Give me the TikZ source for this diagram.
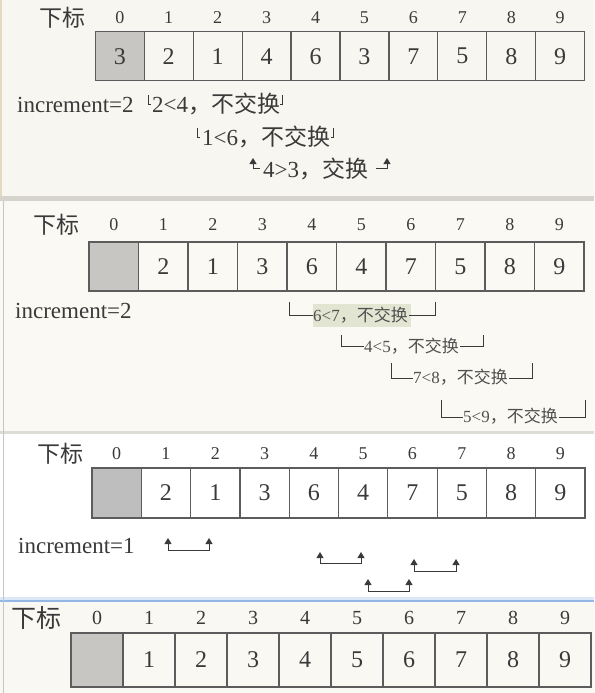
\documentclass[tikz,border=0pt]{standalone}
\usepackage{fontspec}
\setmainfont{Liberation Serif}
\newfontfamily\cjk{Noto Sans CJK SC}
\usetikzlibrary{arrows.meta}
\definecolor{bgone}{HTML}{F8F6F0}
\definecolor{bgtwo}{HTML}{FAF9F4}
\definecolor{bgfour}{HTML}{F9F8F3}
\definecolor{sepgray}{HTML}{D6D3CC}
\definecolor{zeroA}{HTML}{C7C6C2}
\definecolor{zeroC}{HTML}{BEBEBE}
\definecolor{cellline}{HTML}{5C5C5C}
\definecolor{ink}{HTML}{3A3A3A}
\definecolor{softink}{HTML}{505050}
\definecolor{hl}{HTML}{E2E5D2}
\definecolor{blueline}{HTML}{93B8E8}
\definecolor{bluefade}{HTML}{DCE8F8}
\definecolor{tanedge}{HTML}{E3D8C4}
\newcommand\fsz[1]{\fontsize{#1}{#1}\selectfont}
\begin{document}
\begin{tikzpicture}[x=1pt,y=-1pt,
  cellbox/.style={draw=cellline, line width=1.2pt, inner sep=0pt, text=ink, font=\fsz{24}},
  hdr/.style={inner sep=0pt, text=ink, font=\fsz{18}},
  biaolabel/.style={inner sep=0pt, text=ink, font=\cjk\fsz{23}},
  inclabel/.style={inner sep=0pt, anchor=base west, text=ink, font=\fsz{23}},
  cmp/.style={inner sep=0pt, anchor=base west, text=ink, font=\fsz{23}},
  smallcmp/.style={inner sep=0pt, anchor=base west, text=softink, font=\fsz{17}},
  tickmark/.style={draw=ink, line width=0.8pt},
  brk/.style={draw=ink, line width=0.9pt},
  uparrow/.style={draw=ink, line width=1pt, -{Triangle[width=7pt,length=6pt]}},
  twoup/.style={draw=ink, line width=1pt, {Triangle[width=7pt,length=6pt]}-{Triangle[width=7pt,length=6pt]}}
]
\useasboundingbox (0,0) rectangle (594,693);
% backgrounds
\fill[bgone] (0,0) rectangle (594,196);
\fill[sepgray] (0,196) rectangle (594,201);
\fill[bgtwo] (0,201) rectangle (594,431);
\fill[sepgray!80] (0,431) rectangle (594,434);
\fill[white] (0,434) rectangle (594,597);
\fill[bluefade] (0,597) rectangle (594,600);
\fill[blueline] (0,600) rectangle (594,601.5);
\fill[bgfour] (0,601.5) rectangle (594,693);
\draw[tanedge, line width=1.5pt] (1,0) -- (1,196);
\draw[gray!45, line width=1pt] (3,201) -- (3,693);

% ---------- panel 1 ----------
\node[biaolabel] (p1biao) at (62,17.3) {下标};
\node[cellbox, fill=zeroA, minimum width=48.94pt, minimum height=49pt] (p1c0) at ({95.3+48.94*0.5},56.2) {3};
\foreach \v [count=\i] in {2,1,4,6,3,7,5,8,9}
  \node[cellbox, minimum width=48.94pt, minimum height=49pt] (p1c\i) at ({95.3+48.94*(\i+0.5)},56.2) {\v};
\foreach \i in {0,...,9}
  \node[hdr] (p1h\i) at ({95.3+48.94*(\i+0.5)},17.3) {\i};
\node[inclabel] (p1inc) at (17,112) {increment=2};
\node[cmp] (p1t1) at (152,112) {2<4{\cjk ，不交换}};
\draw[tickmark] (148,95) -- (148,104) -- (150.5,104);
\draw[tickmark] (282,95) -- (282,104) -- (279.5,104);
\node[cmp] (p1t2) at (202,145) {1<6{\cjk ，不交换}};
\draw[tickmark] (197,128) -- (197,137) -- (199.5,137);
\draw[tickmark] (333,128) -- (333,137) -- (330.5,137);
\node[cmp] (p1t3) at (263,177) {4>3{\cjk ，交换}};
\draw[uparrow] (260,168) -- (253,168) -- (253,158);
\draw[uparrow] (376,168) -- (387,168) -- (387,158);

% ---------- panel 2 ----------
\node[biaolabel] (p2biao) at (56,225) {下标};
\node[cellbox, fill=zeroA, minimum width=49.5pt, minimum height=49pt] (p2c0) at ({89+49.5*0.5},266.5) {};
\foreach \v [count=\i] in {2,1,3,6,4,7,5,8,9}
  \node[cellbox, minimum width=49.5pt, minimum height=49pt] (p2c\i) at ({89+49.5*(\i+0.5)},266.5) {\v};
\foreach \i in {0,...,9}
  \node[hdr] (p2h\i) at ({89+49.5*(\i+0.5)},225) {\i};
\node[inclabel] (p2inc) at (15,318) {increment=2};
\fill[hl] (313,304) rectangle (411,327);
\node[smallcmp] (p2b1) at (313,321) {6<7{\cjk ，不交换}};
\draw[brk] (289,302) -- (289,315) -- (313,315);
\draw[brk] (409,315) -- (435,315) -- (435,302);
\node[smallcmp] (p2b2) at (364,352) {4<5{\cjk ，不交换}};
\draw[brk] (341,335) -- (341,346) -- (364,346);
\draw[brk] (460,346) -- (483,346) -- (483,335);
\node[smallcmp] (p2b3) at (413,383) {7<8{\cjk ，不交换}};
\draw[brk] (391,363) -- (391,378) -- (413,378);
\draw[brk] (509,378) -- (532,378) -- (532,363);
\node[smallcmp] (p2b4) at (463,422) {5<9{\cjk ，不交换}};
\draw[brk] (441,400) -- (441,417) -- (463,417);
\draw[brk] (559,417) -- (585,417) -- (585,400);

% ---------- panel 3 ----------
\node[biaolabel] (p3biao) at (60,454) {下标};
\node[cellbox, fill=zeroC, minimum width=49.3pt, minimum height=50pt] (p3c0) at ({92+49.3*0.5},493) {};
\foreach \v [count=\i] in {2,1,3,6,4,7,5,8,9}
  \node[cellbox, minimum width=49.3pt, minimum height=50pt] (p3c\i) at ({92+49.3*(\i+0.5)},493) {\v};
\foreach \i in {0,...,9}
  \node[hdr] (p3h\i) at ({92+49.3*(\i+0.5)},454) {\i};
\node[inclabel] (p3inc) at (18,553) {increment=1};
\coordinate (aL) at (168,538); \coordinate (aR) at (209,538);
\coordinate (bL) at (320,552); \coordinate (bR) at (361,552);
\coordinate (cL) at (414,559); \coordinate (cR) at (456,559);
\coordinate (dL) at (368,579); \coordinate (dR) at (409,579);
\draw[twoup] (aL) -- ++(0,12) -| (aR);
\draw[twoup] (bL) -- ++(0,11) -| (bR);
\draw[twoup] (cL) -- ++(0,12) -| (cR);
\draw[twoup] (dL) -- ++(0,12) -| (dR);

% ---------- panel 4 ----------
\node[biaolabel, font=\cjk\fsz{25}] (p4biao) at (37,618) {下标};
\node[cellbox, fill=zeroA, minimum width=52pt, minimum height=54pt] (p4c0) at ({71+52*0.5},660) {};
\foreach \v [count=\i] in {1,2,3,4,5,6,7,8,9}
  \node[cellbox, minimum width=52pt, minimum height=54pt] (p4c\i) at ({71+52*(\i+0.5)},660) {\v};
\foreach \i in {0,...,9}
  \node[hdr, font=\fsz{20}] (p4h\i) at ({71+52*(\i+0.5)},618) {\i};
\end{tikzpicture}
\end{document}
